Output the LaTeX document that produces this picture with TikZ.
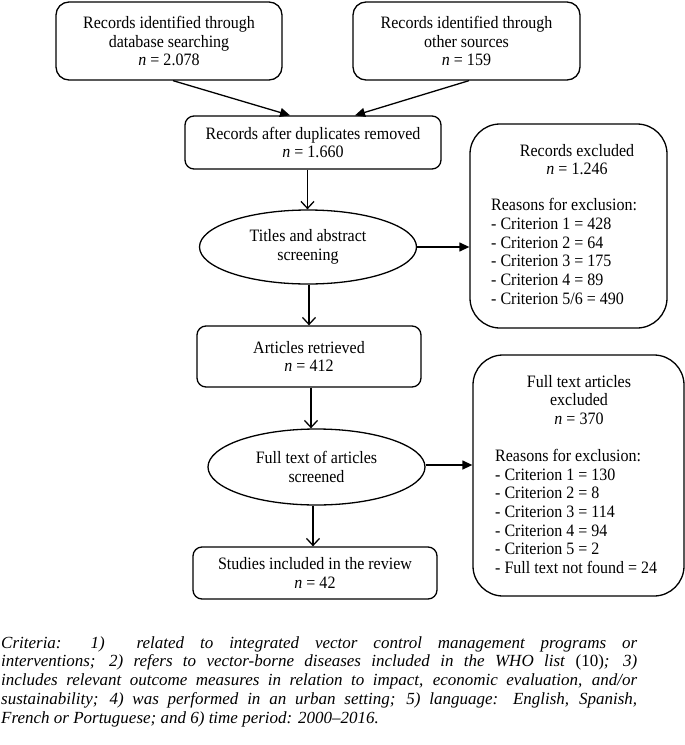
\documentclass[tikz,border=0pt]{standalone}
\usepackage{fontspec}
\setmainfont{Liberation Serif}[FakeStretch=0.92]
\newfontfamily\capfont{Liberation Serif}[Ligatures=TeX]
\usetikzlibrary{arrows.meta,shapes.geometric}
\begin{document}
\begin{tikzpicture}[x=1pt,y=-1pt,
  every node/.style={font=\fontsize{17.4}{18.7}\selectfont},
  box/.style={draw,line width=1.3pt,rounded corners=9pt,align=center,inner sep=0pt},
  bigbox/.style={draw,line width=1.3pt,rounded corners=30pt,inner sep=0pt},
  oval/.style={draw,ellipse,line width=1.3pt,align=center,inner sep=0pt},
  txt/.style={inner sep=0pt},
  arr/.style={line width=1.3pt,-{Triangle[length=10pt,width=9pt]}},
  varr/.style={line width=1.3pt,-{Straight Barb[length=7pt,width=13pt]}},
]
\useasboundingbox (0,0) rectangle (685,745);

% top boxes
\node[box, rounded corners=13pt, minimum width=226pt, minimum height=78pt] (db) at (169,41)
  {Records identified through\\database searching\\\textit{n} = 2.078};
\node[box, rounded corners=13pt, minimum width=227pt, minimum height=78pt] (oth) at (466.5,41)
  {Records identified through\\other sources\\\textit{n} = 159};

\node[box, minimum width=256pt, minimum height=53pt] (dup) at (313,142.5)
  {Records after duplicates removed\\\textit{n} = 1.660};

\node[oval, minimum width=217pt, minimum height=74pt] (tas) at (308,247)
  {Titles and abstract\\screening};

\node[box, minimum width=224pt, minimum height=61pt] (art) at (309,356.5)
  {Articles retrieved\\\textit{n} = 412};

\node[oval, minimum width=217pt, minimum height=76pt] (fts) at (316.5,467)
  {Full text of articles\\screened};

\node[box, minimum width=244pt, minimum height=52pt] (stu) at (315,573)
  {Studies included in the review\\\textit{n} = 42};

% exclusion boxes
\node[bigbox, minimum width=197pt, minimum height=204pt] (ex1) at (568.5,226) {};
\node[txt, align=center] (ex1h) at (577,159.5) {Records excluded\\\textit{n} = 1.246};
\node[txt, align=left, anchor=west] (ex1l) at (491,251.5)
  {Reasons for exclusion:\\- Criterion 1 = 428\\- Criterion 2 = 64\\- Criterion 3 = 175\\- Criterion 4 = 89\\- Criterion 5/6 = 490};

\node[bigbox, minimum width=211pt, minimum height=241pt] (ex2) at (578.5,475.5) {};
\node[txt, align=center] (ex2h) at (579,400) {Full text articles\\excluded\\\textit{n} = 370};
\node[txt, align=left, anchor=west] (ex2l) at (495,511.5)
  {Reasons for exclusion:\\- Criterion 1 = 130\\- Criterion 2 = 8\\- Criterion 3 = 114\\- Criterion 4 = 94\\- Criterion 5 = 2\\- Full text not found = 24};

% connectors
\draw[arr] ([xshift=4pt]db.south) -- ([xshift=-23pt]dup.north);
\draw[arr] ([xshift=2.5pt]oth.south) -- ([xshift=42pt]dup.north);
\draw[varr] ([xshift=-0.5pt]tas.north |- dup.south) -- ([xshift=-0.5pt]tas.north);
\draw[arr] (tas.east) -- (tas.east -| ex1.west);
\draw[varr] ([xshift=1pt]tas.south) -- ([xshift=1pt]tas.south |- art.north);
\draw[varr] ([xshift=2pt]art.south) -- ([xshift=2pt]art.south |- fts.north);
\draw[arr] ([yshift=2pt]fts.east) -- ([yshift=2pt]fts.east -| ex2.west);
\draw[varr] ([xshift=-3.5pt]fts.south) -- ([xshift=-3.5pt]fts.south |- stu.north);

% caption
\node[txt, anchor=north west, text width=636pt, align=justify,
      font=\capfont\fontsize{17}{18.75}\selectfont\itshape] (cap) at (1,636)
  {Criteria: 1)~ related to integrated vector control management programs or\linebreak
   interventions; 2) refers to vector-borne diseases included in the WHO list \textup{(10)}; 3)\linebreak
   includes relevant outcome measures in relation to impact, economic evaluation, and/or\linebreak
   sustainability; 4) was performed in an urban setting; 5) language: English, Spanish,\linebreak
   French or Portuguese; and 6) time period: 2000--2016.};
\end{tikzpicture}
\end{document}
